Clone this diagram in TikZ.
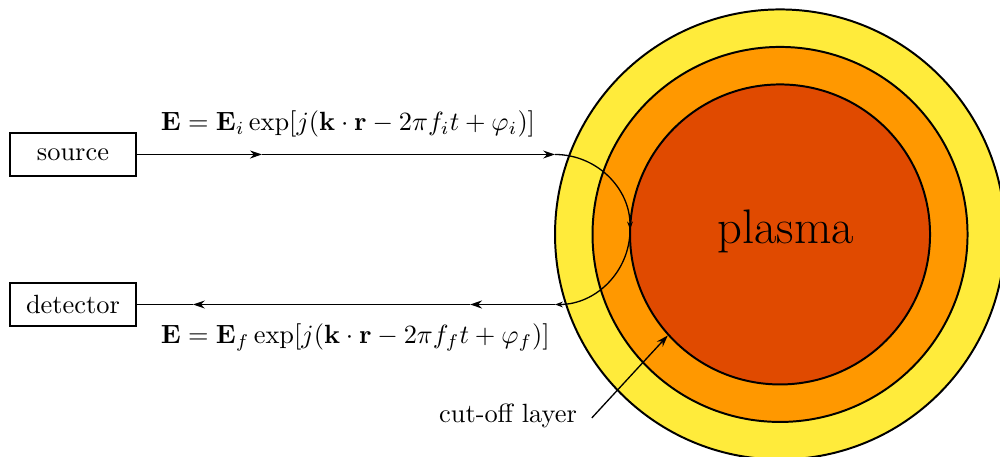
\documentclass[tikz,border=0pt]{standalone}
\usepackage{amsmath}
\usepackage{tikz}
\usetikzlibrary{arrows.meta}
\definecolor{haloc}{RGB}{255,235,59}
\definecolor{shellc}{RGB}{255,152,0}
\definecolor{corec}{RGB}{224,74,0}
\tikzset{
  dev/.style={rectangle,draw=black,line width=0.5pt,minimum width=1.68cm,minimum height=0.57cm,inner sep=0pt},
  layer/.style={circle,draw=black,line width=0.75pt,inner sep=0pt},
  ray/.style={line width=0.7pt,black},
  raytip/.style={-{Stealth[length=4.5pt,width=3pt]}},
  smalltip/.style={-{Stealth[length=3pt,width=2.2pt]}},
  turnray/.style={line width=0.5pt,black},
  annoarrow/.style={-{Stealth[length=4.5pt,width=3pt]},line width=0.5pt,black},
}

\begin{document}
\begin{tikzpicture}
  \useasboundingbox (0,0) rectangle (13.333,6.093);
  \clip (0,0) rectangle (13.333,6.093);
  % plasma layers
  \node[layer,fill=haloc,minimum size=6cm](halo) at (10.4,2.967){};
  \node[layer,fill=shellc,minimum size=5cm](shell) at (10.4,2.967){};
  \node[layer,fill=corec,minimum size=4cm](core) at (10.4,2.967){};
  \node[font=\fontsize{18.4}{22}\selectfont](plasma) at ([xshift=0.075cm,yshift=0.04cm]core.center){plasma};
  % devices
  \node[dev](src) at (0.973,4.033){source};
  \node[dev](det) at (0.973,2.033){detector};
  \coordinate (a1) at (3.493,4.033); \coordinate (tin) at (7.4,4.033);
  \coordinate (turn) at (8.4,3.033); \coordinate (tout) at (7.4,2.033);
  \coordinate (b1) at (6.267,2.033); \coordinate (b2) at (2.573,2.033);
  \draw[ray,raytip] (src.east) -- (a1);
  \draw[ray,raytip] (a1) -- (tin);
  \draw[turnray,smalltip] (tin) arc[start angle=90,end angle=0,radius=1];
  \draw[turnray,smalltip] (turn) arc[start angle=0,end angle=-90,radius=1];
  \draw[ray,raytip] (tout) -- (b1);
  \draw[ray,raytip] (b1) -- (b2);
  \draw[ray] (b2) -- (det.east);
  % fields
  \node[anchor=west](eqin) at (2.02,4.44){$\mathbf{E}=\mathbf{E}_i\exp[j(\mathbf{k}\cdot\mathbf{r}-2\pi f_it+\varphi_i)]$};
  \node[anchor=west](eqout) at (2.02,1.593){$\mathbf{E}=\mathbf{E}_f\exp[j(\mathbf{k}\cdot\mathbf{r}-2\pi f_ft+\varphi_f)]$};
  % cut-off
  \node(cut) at (6.773,0.553){cut-off layer};
  \coordinate (cutfrom) at (7.89,0.52);
  \draw[annoarrow] (cutfrom) -- (core.222);
\end{tikzpicture}
\end{document}
